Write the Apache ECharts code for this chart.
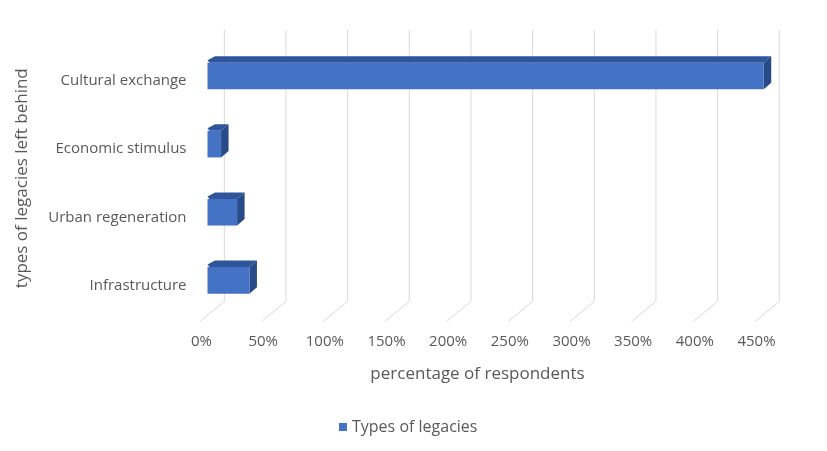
<!DOCTYPE html>
<html>
<head>
<meta charset="utf-8">
<script src="https://cdn.jsdelivr.net/npm/echarts@6/dist/echarts.min.js"></script>
<style>
  html, body { margin: 0; padding: 0; background: #ffffff; }
  #chart { width: 827px; height: 451px; }
</style>
</head>
<body>
<div id="chart"></div>
<script>
// Legacy types, listed top to bottom
const categories = ['Cultural exchange', 'Economic stimulus', 'Urban regeneration', 'Infrastructure'];
// Share of respondents (%) for each legacy type
const legacyValues = [451, 11, 24, 34];
// Value axis ticks (%)
const xTicks = [0, 50, 100, 150, 200, 250, 300, 350, 400, 450];
const seriesName = 'Types of legacies';

// Depth of the 3D boxes and of the back wall, in pixels
const BAR_DX = 7.5, BAR_DY = -6.5;
const WALL_DX = 16.8, WALL_DY = -13;
const FLOOR_DX = -7.5, FLOOR_DY = 7;

const FRONT = '#4472c4';
const TOP = '#2f569c';
const SIDE = '#284a88';
const TEXT = '#595959';
const FONT = '"Open Sans", "Noto Sans", sans-serif';

const chart = echarts.init(document.getElementById('chart'));

function renderBox(params, api) {
  const v = api.value(0);
  const c = api.value(1);
  const p0 = api.coord([0, c]);
  const p1 = api.coord([v, c]);
  const h = api.size([0, 1])[1] * 0.39;
  const top = p0[1] - h / 2;
  const bottom = p0[1] + h / 2;
  const x0 = p0[0], x1 = p1[0];
  return {
    type: 'group',
    children: [
      {
        type: 'polygon',
        shape: { points: [[x0 + 2, top], [x1, top], [x1 + BAR_DX, top + BAR_DY], [x0 + BAR_DX, top + BAR_DY], [x0, top + BAR_DY + 4]] },
        style: { fill: TOP }
      },
      {
        type: 'polygon',
        shape: { points: [[x1, top], [x1 + BAR_DX, top + BAR_DY], [x1 + BAR_DX, bottom + BAR_DY], [x1, bottom]] },
        style: { fill: SIDE }
      },
      {
        type: 'rect',
        shape: { x: x0, y: top, width: x1 - x0, height: h },
        style: { fill: FRONT }
      }
    ]
  };
}

function renderWallLine(params, api) {
  const cs = params.coordSys;
  const x = api.coord([api.value(0), 0])[0] + WALL_DX;
  const yTop = cs.y - 12;
  const yBottom = cs.y + cs.height + WALL_DY;
  const fx = x - WALL_DX + FLOOR_DX;
  const fy = cs.y + cs.height + FLOOR_DY;
  return {
    type: 'polyline',
    shape: { points: [[x, yTop], [x, yBottom], [fx, fy]] },
    style: { stroke: '#d9d9d9', lineWidth: 1, fill: null }
  };
}

chart.setOption({
  backgroundColor: '#ffffff',
  animation: false,
  textStyle: { fontFamily: FONT },
  grid: { left: 207.5, right: 64.5, top: 42, bottom: 136.6 },
  legend: {
    data: [seriesName],
    left: 339,
    top: 419,
    padding: 0,
    itemWidth: 8,
    itemHeight: 8,
    icon: 'rect',
    textStyle: { color: TEXT, fontSize: 16, fontFamily: FONT }
  },
  xAxis: {
    type: 'value',
    min: 0,
    max: 450,
    interval: 50,
    name: 'percentage of respondents',
    nameLocation: 'middle',
    nameGap: 51,
    nameTextStyle: { color: TEXT, fontSize: 17, fontFamily: FONT, padding: [0, 15, 0, 0] },
    axisLine: { show: false },
    axisTick: { show: false },
    splitLine: { show: false },
    axisLabel: {
      color: TEXT,
      fontSize: 15,
      fontFamily: FONT,
      margin: 20,
      padding: [0, 12, 0, 0],
      formatter: function (v) { return xTicks.indexOf(v) >= 0 ? v + '%' : ''; }
    }
  },
  yAxis: {
    type: 'category',
    data: categories,
    inverse: true,
    name: 'types of legacies left behind',
    nameLocation: 'middle',
    nameGap: 177,
    nameRotate: 90,
    nameTextStyle: { color: TEXT, fontSize: 17, fontFamily: FONT },
    axisLine: { show: false },
    axisTick: { show: false },
    splitLine: { show: false },
    axisLabel: {
      margin: 21,
      formatter: function (v) { return '{c|' + v + '}'; },
      rich: {
        c: { color: TEXT, fontSize: 15, fontFamily: FONT, padding: [10, 0, 0, 0] }
      }
    }
  },
  series: [
    {
      type: 'custom',
      name: 'wall',
      silent: true,
      z: 1,
      renderItem: renderWallLine,
      encode: { x: 0 },
      data: xTicks.map(function (t) { return [t, 0]; })
    },
    {
      type: 'custom',
      name: seriesName,
      z: 5,
      itemStyle: { color: FRONT },
      renderItem: renderBox,
      encode: { x: 0, y: 1 },
      data: legacyValues.map(function (v, i) { return [v, i]; })
    }
  ]
});
</script>
</body>
</html>
